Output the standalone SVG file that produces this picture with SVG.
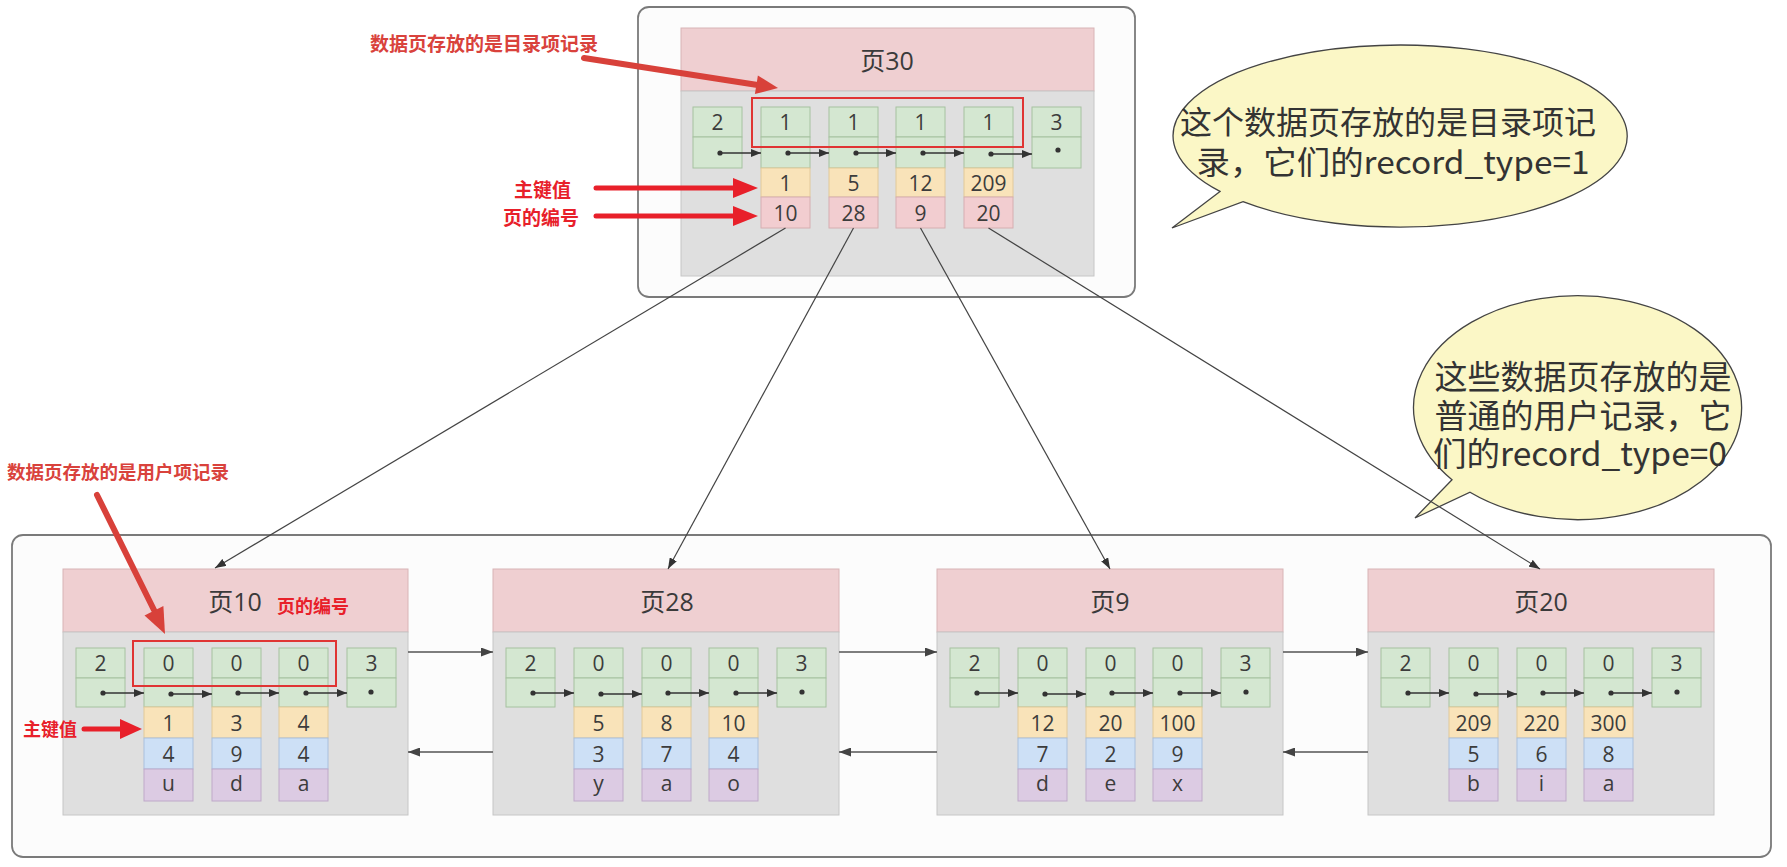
<svg xmlns="http://www.w3.org/2000/svg" width="1787" height="867" viewBox="0 0 1787 867">
<style>
.bg{fill:#ffffff}
.outer{fill:#fcfcfc;stroke:#7a7a7a;stroke-width:1.8}
.hdr{fill:#efcfd1;stroke:#d8b4b6;stroke-width:1}
.body{fill:#dfdfdf;stroke:#c6c6c6;stroke-width:1}
.g{fill:#d4e7d1;stroke:#a6c2a0;stroke-width:1}
.y{fill:#f9e3b9;stroke:#e2c99a;stroke-width:1}
.b{fill:#cde0f6;stroke:#a9c0de;stroke-width:1}
.p{fill:#dccbe3;stroke:#bfa9c9;stroke-width:1}
.k{fill:#f2cdd0;stroke:#d6aeb1;stroke-width:1}
.num{font-family:"Open Sans","Noto Sans CJK SC",sans-serif;font-size:21px;fill:#3c3c3c;text-anchor:middle;dominant-baseline:central}
.title{font-family:"Open Sans","Noto Sans CJK SC",sans-serif;font-size:25px;fill:#3a3a3a;text-anchor:middle;dominant-baseline:central}
.ptr{stroke:#333;stroke-width:1.3;fill:none;marker-end:url(#ptr)}
.dot{fill:#333}
.conn{stroke:#444;stroke-width:1.2;fill:none;marker-end:url(#arr)}
.link{stroke:#555;stroke-width:1.6;fill:none;marker-end:url(#arr2)}
.redbox{fill:none;stroke:#e03434;stroke-width:2}
.red{font-family:"Noto Sans CJK SC",sans-serif;font-weight:bold;fill:#e8202a;dominant-baseline:central}
.red2{font-family:"Noto Sans CJK SC",sans-serif;font-weight:bold;fill:#d9423c;dominant-baseline:central}
.rline{stroke:#e8202a;stroke-width:5;stroke-linecap:round;fill:none}
.rline2{stroke:#d8413a;stroke-width:6;stroke-linecap:round;fill:none}
.bub{fill:#fbf7c6;stroke:#444;stroke-width:1.3}
.bt{font-family:"Noto Sans CJK SC",sans-serif;fill:#333;text-anchor:middle;dominant-baseline:central}
</style>
<defs>
<marker id="ptr" markerUnits="userSpaceOnUse" markerWidth="10" markerHeight="8" refX="10" refY="4" orient="auto"><path d="M0,0 L10,4 L0,8 z" fill="#333"/></marker>
<marker id="arr" markerUnits="userSpaceOnUse" markerWidth="11" markerHeight="8" refX="11" refY="4" orient="auto"><path d="M0,0 L11,4 L0,8 z" fill="#333"/></marker>
<marker id="arr2" markerUnits="userSpaceOnUse" markerWidth="12" markerHeight="9" refX="12" refY="4.5" orient="auto"><path d="M0,0 L12,4.5 L0,9 z" fill="#444"/></marker>
</defs>
<rect class="bg" x="0" y="0" width="1787" height="867"/>

<g id="top-container"><rect class="outer" x="638" y="7" width="497" height="290" rx="11"/></g>
<g id="bottom-container"><rect class="outer" x="12" y="535" width="1759" height="322" rx="11"/></g>

<g id="bubble1">
<path class="bub" d="M1220,191.4 L1172,228 L1243,201.7 A227,91 0 1 0 1220,191.4 Z"/>
<text class="bt" x="1388" y="120" font-size="32">这个数据页存放的是目录项记</text>
<text class="bt" x="1393" y="160" font-size="32" textLength="393" lengthAdjust="spacingAndGlyphs">录，它们的record_type=1</text>
</g>
<g id="bubble2">
<path class="bub" d="M1452,479.7 L1415,518 L1470,492.2 A164,112 0 1 0 1452,479.7 Z"/>
<text class="bt" x="1583" y="375" font-size="33">这些数据页存放的是</text>
<text class="bt" x="1583" y="414" font-size="33">普通的用户记录，它</text>
<text class="bt" x="1580" y="452" font-size="33" textLength="294" lengthAdjust="spacingAndGlyphs">们的record_type=0</text>
</g>

<g id="page30">
<rect class="hdr" x="681" y="28" width="413" height="63"/>
<rect class="body" x="681" y="91" width="413" height="185"/>
<text class="title" x="887" y="60">页30</text>
<rect class="g" x="693" y="107" width="49" height="30"/><rect class="g" x="693" y="137" width="49" height="31"/>
<rect class="g" x="761" y="107" width="49" height="30"/><rect class="g" x="761" y="137" width="49" height="31"/>
<rect class="g" x="829" y="107" width="49" height="30"/><rect class="g" x="829" y="137" width="49" height="31"/>
<rect class="g" x="896" y="107" width="49" height="30"/><rect class="g" x="896" y="137" width="49" height="31"/>
<rect class="g" x="964" y="107" width="49" height="30"/><rect class="g" x="964" y="137" width="49" height="31"/>
<rect class="g" x="1032" y="107" width="49" height="30"/><rect class="g" x="1032" y="137" width="49" height="31"/>
<rect class="y" x="761" y="168" width="49" height="29"/><rect class="k" x="761" y="197" width="49" height="31"/>
<rect class="y" x="829" y="168" width="49" height="29"/><rect class="k" x="829" y="197" width="49" height="31"/>
<rect class="y" x="896" y="168" width="49" height="29"/><rect class="k" x="896" y="197" width="49" height="31"/>
<rect class="y" x="964" y="168" width="49" height="29"/><rect class="k" x="964" y="197" width="49" height="31"/>
<text class="num" x="717.5" y="122">2</text>
<text class="num" x="785.5" y="122">1</text>
<text class="num" x="853.5" y="122">1</text>
<text class="num" x="920.5" y="122">1</text>
<text class="num" x="988.5" y="122">1</text>
<text class="num" x="1056.5" y="122">3</text>
<text class="num" x="785.5" y="182.5">1</text>
<text class="num" x="853.5" y="182.5">5</text>
<text class="num" x="920.5" y="182.5">12</text>
<text class="num" x="988.5" y="182.5">209</text>
<text class="num" x="785.5" y="212.5">10</text>
<text class="num" x="853.5" y="212.5">28</text>
<text class="num" x="920.5" y="212.5">9</text>
<text class="num" x="988.5" y="212.5">20</text>
<circle class="dot" cx="720" cy="153" r="2.6"/><path class="ptr" d="M720,153 H761"/>
<circle class="dot" cx="788" cy="153" r="2.6"/><path class="ptr" d="M788,153 H829"/>
<circle class="dot" cx="856" cy="153" r="2.6"/><path class="ptr" d="M856,153 H896"/>
<circle class="dot" cx="923" cy="153" r="2.6"/><path class="ptr" d="M923,153 H964"/>
<circle class="dot" cx="991" cy="154" r="2.6"/><path class="ptr" d="M991,154 H1032"/>
<circle class="dot" cx="1058" cy="150" r="2.6"/>
</g>

<g id="page10">
<rect class="hdr" x="63" y="569" width="345" height="63"/>
<rect class="body" x="63" y="632" width="345" height="183"/>
<text class="title" x="235" y="601">页10</text>
<rect class="g" x="76" y="648" width="49" height="30"/><rect class="g" x="76" y="678" width="49" height="29"/>
<rect class="g" x="144" y="648" width="49" height="30"/><rect class="g" x="144" y="678" width="49" height="29"/>
<rect class="g" x="212" y="648" width="49" height="30"/><rect class="g" x="212" y="678" width="49" height="29"/>
<rect class="g" x="279" y="648" width="49" height="30"/><rect class="g" x="279" y="678" width="49" height="29"/>
<rect class="g" x="347" y="648" width="49" height="30"/><rect class="g" x="347" y="678" width="49" height="29"/>
<rect class="y" x="144" y="707" width="49" height="31"/><rect class="b" x="144" y="738" width="49" height="31"/><rect class="p" x="144" y="769" width="49" height="32"/>
<rect class="y" x="212" y="707" width="49" height="31"/><rect class="b" x="212" y="738" width="49" height="31"/><rect class="p" x="212" y="769" width="49" height="32"/>
<rect class="y" x="279" y="707" width="49" height="31"/><rect class="b" x="279" y="738" width="49" height="31"/><rect class="p" x="279" y="769" width="49" height="32"/>
<text class="num" x="100.5" y="663">2</text><text class="num" x="168.5" y="663">0</text><text class="num" x="236.5" y="663">0</text><text class="num" x="303.5" y="663">0</text><text class="num" x="371.5" y="663">3</text>
<text class="num" x="168.5" y="722.5">1</text><text class="num" x="236.5" y="722.5">3</text><text class="num" x="303.5" y="722.5">4</text>
<text class="num" x="168.5" y="753.5">4</text><text class="num" x="236.5" y="753.5">9</text><text class="num" x="303.5" y="753.5">4</text>
<text class="num" x="168.5" y="783">u</text><text class="num" x="236.5" y="783">d</text><text class="num" x="303.5" y="783">a</text>
<circle class="dot" cx="103" cy="693" r="2.6"/><path class="ptr" d="M103,693 H144"/>
<circle class="dot" cx="171" cy="694" r="2.6"/><path class="ptr" d="M171,694 H212"/>
<circle class="dot" cx="238" cy="693" r="2.6"/><path class="ptr" d="M238,693 H279"/>
<circle class="dot" cx="306" cy="693" r="2.6"/><path class="ptr" d="M306,693 H347"/>
<circle class="dot" cx="371" cy="692" r="2.6"/>
</g>

<g id="page28">
<rect class="hdr" x="493" y="569" width="346" height="63"/>
<rect class="body" x="493" y="632" width="346" height="183"/>
<text class="title" x="667" y="601">页28</text>
<rect class="g" x="506" y="648" width="49" height="30"/><rect class="g" x="506" y="678" width="49" height="29"/>
<rect class="g" x="574" y="648" width="49" height="30"/><rect class="g" x="574" y="678" width="49" height="29"/>
<rect class="g" x="642" y="648" width="49" height="30"/><rect class="g" x="642" y="678" width="49" height="29"/>
<rect class="g" x="709" y="648" width="49" height="30"/><rect class="g" x="709" y="678" width="49" height="29"/>
<rect class="g" x="777" y="648" width="49" height="30"/><rect class="g" x="777" y="678" width="49" height="29"/>
<rect class="y" x="574" y="707" width="49" height="31"/><rect class="b" x="574" y="738" width="49" height="31"/><rect class="p" x="574" y="769" width="49" height="32"/>
<rect class="y" x="642" y="707" width="49" height="31"/><rect class="b" x="642" y="738" width="49" height="31"/><rect class="p" x="642" y="769" width="49" height="32"/>
<rect class="y" x="709" y="707" width="49" height="31"/><rect class="b" x="709" y="738" width="49" height="31"/><rect class="p" x="709" y="769" width="49" height="32"/>
<text class="num" x="530.5" y="663">2</text><text class="num" x="598.5" y="663">0</text><text class="num" x="666.5" y="663">0</text><text class="num" x="733.5" y="663">0</text><text class="num" x="801.5" y="663">3</text>
<text class="num" x="598.5" y="722.5">5</text><text class="num" x="666.5" y="722.5">8</text><text class="num" x="733.5" y="722.5">10</text>
<text class="num" x="598.5" y="753.5">3</text><text class="num" x="666.5" y="753.5">7</text><text class="num" x="733.5" y="753.5">4</text>
<text class="num" x="598.5" y="783">y</text><text class="num" x="666.5" y="783">a</text><text class="num" x="733.5" y="783">o</text>
<circle class="dot" cx="533" cy="693" r="2.6"/><path class="ptr" d="M533,693 H574"/>
<circle class="dot" cx="601" cy="694" r="2.6"/><path class="ptr" d="M601,694 H642"/>
<circle class="dot" cx="668" cy="693" r="2.6"/><path class="ptr" d="M668,693 H709"/>
<circle class="dot" cx="736" cy="693" r="2.6"/><path class="ptr" d="M736,693 H777"/>
<circle class="dot" cx="802" cy="692" r="2.6"/>
</g>

<g id="page9">
<rect class="hdr" x="937" y="569" width="346" height="63"/>
<rect class="body" x="937" y="632" width="346" height="183"/>
<text class="title" x="1110" y="601">页9</text>
<rect class="g" x="950" y="648" width="49" height="30"/><rect class="g" x="950" y="678" width="49" height="29"/>
<rect class="g" x="1018" y="648" width="49" height="30"/><rect class="g" x="1018" y="678" width="49" height="29"/>
<rect class="g" x="1086" y="648" width="49" height="30"/><rect class="g" x="1086" y="678" width="49" height="29"/>
<rect class="g" x="1153" y="648" width="49" height="30"/><rect class="g" x="1153" y="678" width="49" height="29"/>
<rect class="g" x="1221" y="648" width="49" height="30"/><rect class="g" x="1221" y="678" width="49" height="29"/>
<rect class="y" x="1018" y="707" width="49" height="31"/><rect class="b" x="1018" y="738" width="49" height="31"/><rect class="p" x="1018" y="769" width="49" height="32"/>
<rect class="y" x="1086" y="707" width="49" height="31"/><rect class="b" x="1086" y="738" width="49" height="31"/><rect class="p" x="1086" y="769" width="49" height="32"/>
<rect class="y" x="1153" y="707" width="49" height="31"/><rect class="b" x="1153" y="738" width="49" height="31"/><rect class="p" x="1153" y="769" width="49" height="32"/>
<text class="num" x="974.5" y="663">2</text><text class="num" x="1042.5" y="663">0</text><text class="num" x="1110.5" y="663">0</text><text class="num" x="1177.5" y="663">0</text><text class="num" x="1245.5" y="663">3</text>
<text class="num" x="1042.5" y="722.5">12</text><text class="num" x="1110.5" y="722.5">20</text><text class="num" x="1177.5" y="722.5">100</text>
<text class="num" x="1042.5" y="753.5">7</text><text class="num" x="1110.5" y="753.5">2</text><text class="num" x="1177.5" y="753.5">9</text>
<text class="num" x="1042.5" y="783">d</text><text class="num" x="1110.5" y="783">e</text><text class="num" x="1177.5" y="783">x</text>
<circle class="dot" cx="977" cy="693" r="2.6"/><path class="ptr" d="M977,693 H1018"/>
<circle class="dot" cx="1045" cy="694" r="2.6"/><path class="ptr" d="M1045,694 H1086"/>
<circle class="dot" cx="1112" cy="693" r="2.6"/><path class="ptr" d="M1112,693 H1153"/>
<circle class="dot" cx="1180" cy="693" r="2.6"/><path class="ptr" d="M1180,693 H1221"/>
<circle class="dot" cx="1246" cy="692" r="2.6"/>
</g>

<g id="page20">
<rect class="hdr" x="1368" y="569" width="346" height="63"/>
<rect class="body" x="1368" y="632" width="346" height="183"/>
<text class="title" x="1541" y="601">页20</text>
<rect class="g" x="1381" y="648" width="49" height="30"/><rect class="g" x="1381" y="678" width="49" height="29"/>
<rect class="g" x="1449" y="648" width="49" height="30"/><rect class="g" x="1449" y="678" width="49" height="29"/>
<rect class="g" x="1517" y="648" width="49" height="30"/><rect class="g" x="1517" y="678" width="49" height="29"/>
<rect class="g" x="1584" y="648" width="49" height="30"/><rect class="g" x="1584" y="678" width="49" height="29"/>
<rect class="g" x="1652" y="648" width="49" height="30"/><rect class="g" x="1652" y="678" width="49" height="29"/>
<rect class="y" x="1449" y="707" width="49" height="31"/><rect class="b" x="1449" y="738" width="49" height="31"/><rect class="p" x="1449" y="769" width="49" height="32"/>
<rect class="y" x="1517" y="707" width="49" height="31"/><rect class="b" x="1517" y="738" width="49" height="31"/><rect class="p" x="1517" y="769" width="49" height="32"/>
<rect class="y" x="1584" y="707" width="49" height="31"/><rect class="b" x="1584" y="738" width="49" height="31"/><rect class="p" x="1584" y="769" width="49" height="32"/>
<text class="num" x="1405.5" y="663">2</text><text class="num" x="1473.5" y="663">0</text><text class="num" x="1541.5" y="663">0</text><text class="num" x="1608.5" y="663">0</text><text class="num" x="1676.5" y="663">3</text>
<text class="num" x="1473.5" y="722.5">209</text><text class="num" x="1541.5" y="722.5">220</text><text class="num" x="1608.5" y="722.5">300</text>
<text class="num" x="1473.5" y="753.5">5</text><text class="num" x="1541.5" y="753.5">6</text><text class="num" x="1608.5" y="753.5">8</text>
<text class="num" x="1473.5" y="783">b</text><text class="num" x="1541.5" y="783">i</text><text class="num" x="1608.5" y="783">a</text>
<circle class="dot" cx="1408" cy="693" r="2.6"/><path class="ptr" d="M1408,693 H1449"/>
<circle class="dot" cx="1476" cy="694" r="2.6"/><path class="ptr" d="M1476,694 H1517"/>
<circle class="dot" cx="1543" cy="693" r="2.6"/><path class="ptr" d="M1543,693 H1584"/>
<circle class="dot" cx="1611" cy="693" r="2.6"/><path class="ptr" d="M1611,693 H1652"/>
<circle class="dot" cx="1677" cy="692" r="2.6"/>
</g>

<g id="connectors">
<path class="conn" d="M785.5,228 L215,568"/>
<path class="conn" d="M853.5,228 L668,569"/>
<path class="conn" d="M920.5,228 L1110,569"/>
<path class="conn" d="M988.5,228 L1540,569"/>
<path class="link" d="M408,652 H493"/>
<path class="link" d="M839,652 H937"/>
<path class="link" d="M1283,652 H1368"/>
<path class="link" d="M493,752 H408"/>
<path class="link" d="M937,752 H839"/>
<path class="link" d="M1368,752 H1283"/>
</g>

<g id="annotations">
<rect class="redbox" x="752" y="98" width="271" height="49"/>
<rect class="redbox" x="133" y="641" width="203" height="45"/>
<text class="red2" x="370" y="42" font-size="19">数据页存放的是目录项记录</text>
<path class="rline2" d="M584,58 L756,84.7"/>
<polygon points="754.9,94 778,88 757.9,75.4" fill="#d8413a"/>
<text class="red" x="514" y="188" font-size="19">主键值</text>
<text class="red" x="503" y="216" font-size="19">页的编号</text>
<path class="rline" d="M596,188 H735"/>
<polygon points="733,178 758,188 733,198" fill="#e8202a"/>
<path class="rline" d="M596,216 H735"/>
<polygon points="733,206 758,216 733,226" fill="#e8202a"/>
<text class="red2" x="7" y="471" font-size="18.5">数据页存放的是用户项记录</text>
<path class="rline2" d="M97,495 L154,610"/>
<polygon points="144.5,615.5 165,634 163.4,606" fill="#d8413a"/>
<text class="red" x="277" y="605" font-size="18">页的编号</text>
<text class="red" x="23" y="728" font-size="18">主键值</text>
<path class="rline" d="M84,729 H122"/>
<polygon points="120,719 142,729 120,739" fill="#e8202a"/>
</g>
</svg>
